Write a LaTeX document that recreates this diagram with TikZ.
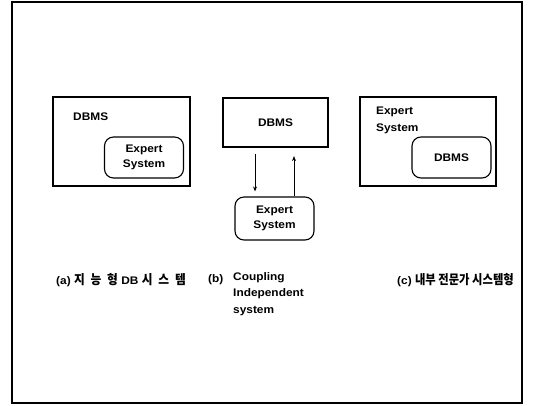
\documentclass[tikz,border=0pt]{standalone}
\usepackage{fontspec}
\setmainfont{Liberation Sans}[FakeStretch=1.08]
\newfontfamily\kofont{Noto Sans CJK KR}[FakeStretch=0.87]
\newfontfamily\kofontwide{Noto Sans CJK KR}[FakeStretch=0.9,LetterSpace=45]
\usetikzlibrary{arrows.meta}
\begin{document}
\begin{tikzpicture}[x=1pt,y=-1pt,
  txt/.style={font=\fontsize{11}{16}\selectfont\bfseries, inner sep=0pt},
  outerbox/.style={draw, line width=2.2pt, inner sep=0pt},
  roundbox/.style={draw, line width=1.1pt, rounded corners=9pt, inner sep=0pt, align=center, font=\fontsize{11}{15.5}\selectfont\bfseries},
  link/.style={line width=0.9pt, -{Stealth[length=5pt,width=4pt]}},
  captext/.style={font=\fontsize{11}{16.5}\selectfont\bfseries, anchor=west, inner sep=0pt, align=left}]
\useasboundingbox (0,0) rectangle (538,405);
% page frame
\draw[line width=1.8pt] (12,2) rectangle (522,403);

% (a) expert system inside the DBMS
\draw[outerbox] (53,97) rectangle (190,186);
\node[txt, anchor=west] (adb) at (73,117) {DBMS};
\node[roundbox, minimum width=79pt, minimum height=41pt] (aes) at (144,157.5) {Expert\\System};

% (b) independent coupled systems
\node[outerbox, minimum width=105pt, minimum height=49pt, txt] (bdb) at (275.5,122.5) {DBMS};
\node[roundbox, minimum width=79pt, minimum height=43pt] (bes) at (274.5,218.5) {Expert\\System};
\draw[link] ([xshift=-20.5pt,yshift=-6pt]bdb.south) -- ([xshift=-19.5pt,yshift=5pt]bes.north);
\draw[link] ([xshift=19.5pt]bes.north) -- ([xshift=18.5pt,yshift=-8pt]bdb.south);

% (c) DBMS inside the expert system
\draw[outerbox] (360,97) rectangle (496,186);
\node[txt, anchor=west, align=left, font=\fontsize{11}{17}\selectfont\bfseries] (ces) at (376,120.5) {Expert\\System};
\node[roundbox, minimum width=79pt, minimum height=41pt] (cdb) at (451.5,157.5) {DBMS};

% captions
\node[captext] (capa) at (56,280) {(a) {\kofontwide\fontsize{13}{15}\selectfont 지능형} DB {\kofontwide\fontsize{13}{15}\selectfont 시스템}};
\node[captext] (capb) at (208,280) {(b)};
\node[captext, anchor=north west] (capb2) at (233,272) {Coupling\\Independent\\system};
\node[captext] (capc) at (397,280) {(c) {\kofont\fontsize{13}{15}\selectfont 내부 전문가 시스템형}};
\end{tikzpicture}
\end{document}
